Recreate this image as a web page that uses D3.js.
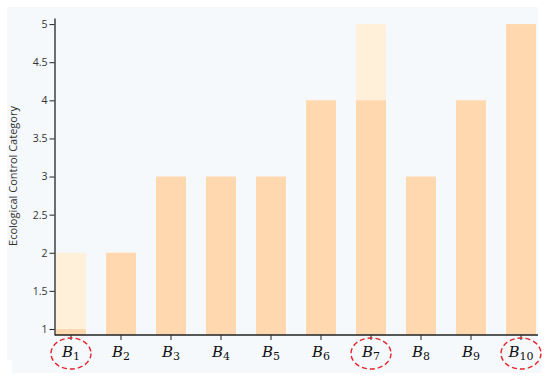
<!DOCTYPE html>
<html><head><meta charset="utf-8">
<script src="https://cdn.jsdelivr.net/npm/d3@7"></script>
<style>body{margin:0;background:#fff}svg{display:block}</style>
</head><body><svg id="c" width="550" height="381"></svg>
<script>
const categories = ["1","2","3","4","5","6","7","8","9","10"];
const currentValues = [1,2,3,3,3,4,4,3,4,5];
const upperValues   = [2,2,3,3,3,4,5,3,4,5];
const yTicks = [1,1.5,2,2.5,3,3.5,4,4.5,5];
const highlighted = ["1","7","10"];
const yTitle = "Ecological Control Category";

const svg = d3.select("#c");
svg.append("rect").attr("x",7).attr("y",7).attr("width",531).attr("height",353).attr("fill","#f5f9fc");
svg.append("rect").attr("x",12).attr("y",355).attr("width",529).attr("height",18).attr("fill","#f5f9fc");

const x = d3.scaleBand().domain(categories).range([46,546]).paddingInner(0.4).paddingOuter(0.2);
const y = d3.scaleLinear().domain([0.921,5.08]).range([335,18]);

const g = svg.append("g");
g.selectAll("rect.up").data(categories).join("rect").attr("class","up")
  .attr("x",d=>x(d)).attr("width",x.bandwidth())
  .attr("y",(d,i)=>y(upperValues[i])).attr("height",(d,i)=>y.range()[0]-y(upperValues[i]))
  .attr("fill","#fff0da");
g.selectAll("rect.cur").data(categories).join("rect").attr("class","cur")
  .attr("x",d=>x(d)).attr("width",x.bandwidth())
  .attr("y",(d,i)=>y(currentValues[i])).attr("height",(d,i)=>y.range()[0]-y(currentValues[i]))
  .attr("fill","#ffd8b0");

// y axis
const ya = svg.append("g").attr("transform","translate(54.5,0)")
  .call(d3.axisLeft(y).tickValues(yTicks).tickFormat(d3.format("")).tickSize(5).tickSizeOuter(0));
ya.select(".domain").attr("stroke","#222").attr("stroke-width",1.3);
ya.selectAll(".tick line").attr("stroke","#222");
ya.selectAll("text").attr("font-family","Open Sans, sans-serif").attr("font-size",10.5).attr("fill","#333").attr("x",-7);

// x axis
const xa = svg.append("g").attr("transform","translate(0,335)")
  .call(d3.axisBottom(x).tickSize(5).tickSizeOuter(0).tickFormat(""));
xa.select(".domain").attr("d","M55,0H538").attr("stroke","#222").attr("stroke-width",1.3);
xa.selectAll(".tick line").attr("stroke","#222");

// x labels
const lbl = svg.append("g").selectAll("text").data(categories).join("text")
  .attr("x",d=>x(d)+x.bandwidth()/2).attr("y",357)
  .attr("text-anchor","middle").attr("font-family","DejaVu Serif, serif").attr("fill","#111");
lbl.append("tspan").attr("font-style","italic").attr("font-size",15).text("B");
lbl.append("tspan").attr("font-size",11).attr("dy",3).text(d=>d);

// highlight ellipses
svg.append("g").selectAll("ellipse").data(highlighted).join("ellipse")
  .attr("cx",d=>x(d)+x.bandwidth()/2).attr("cy",353.5).attr("rx",20).attr("ry",15.5)
  .attr("fill","none").attr("stroke","#e3242b").attr("stroke-width",1.4).attr("stroke-dasharray","5,3");

// y title
svg.append("text").attr("transform","translate(17,176) rotate(-90)")
  .attr("text-anchor","middle").attr("font-family","Open Sans, sans-serif").attr("font-size",11).attr("fill","#333")
  .text(yTitle);
</script></body></html>
